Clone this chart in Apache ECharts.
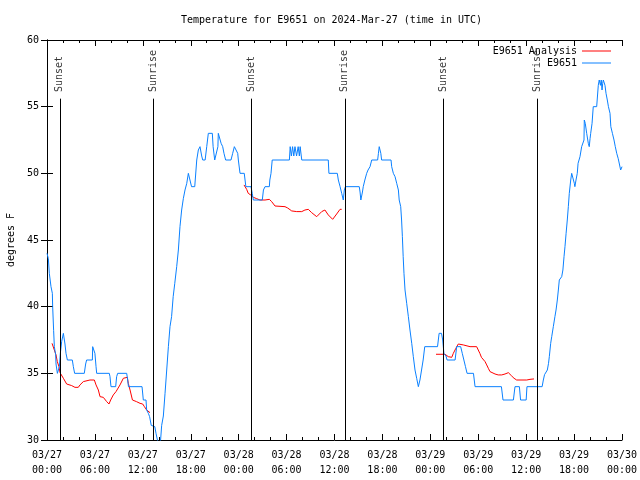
<!DOCTYPE html>
<html><head><meta charset="utf-8">
<script src="https://cdn.jsdelivr.net/npm/echarts@6/dist/echarts.min.js"></script>
<style>html,body{margin:0;padding:0;background:#fff}#c{width:640px;height:480px}</style>
</head><body><div id="c"></div>
<script>
// hours since 2024-03-27 00:00 UTC
const obsHours = [0,0.17,0.29,0.5,0.67,0.71,0.83,0.92,1.08,1.13,1.3,1.5,1.55,1.67,1.84,2.05,2.25,2.38,2.55,3.17,3.3,3.46,4.67,4.84,4.96,5.68,5.72,5.93,6.0,6.14,6.22,7.8,7.89,8.01,8.6,8.72,8.85,9.98,10.1,10.2,11.9,12.06,12.4,12.48,12.69,12.85,13.05,13.15,13.5,13.65,13.9,14.2,14.36,14.57,14.78,14.99,15.2,15.4,15.6,15.8,16.0,16.24,16.45,16.65,16.86,17.07,17.28,17.5,17.7,17.9,18.1,18.5,18.75,18.95,19.16,19.37,19.5,19.8,20.0,20.2,20.7,20.8,21.0,21.25,21.4,21.45,21.66,21.8,22.0,22.16,22.37,23.04,23.25,23.46,23.67,23.88,23.96,24.17,24.7,24.9,25.55,25.7,25.84,26.96,27.1,27.3,27.84,27.9,28.05,28.2,30.35,30.45,30.6,30.75,30.9,31.05,31.25,31.45,31.6,31.7,31.9,35.22,35.3,36.35,36.48,36.7,36.9,37.1,37.23,37.36,39.1,39.2,39.3,39.5,39.6,39.8,40.03,40.2,40.45,40.66,41.4,41.5,41.6,41.8,41.9,43.08,43.16,43.37,43.58,43.79,44.0,44.1,44.29,44.4,44.5,44.6,44.7,44.83,45.04,45.25,45.45,45.67,45.87,46.08,46.3,46.5,46.6,46.7,46.9,47.1,47.3,48.9,49.0,49.1,49.4,49.55,49.7,49.96,50.1,51.1,51.3,51.8,52.0,52.2,52.4,52.6,53.4,53.6,56.9,57.1,58.4,58.6,59.15,59.3,60.0,60.1,62.0,62.15,62.3,62.5,62.65,62.8,62.9,63.07,63.2,63.4,63.6,63.74,63.9,64.03,64.15,64.45,64.6,64.74,64.86,65.0,65.15,65.28,65.4,65.58,65.7,65.9,66.03,66.1,66.24,66.4,66.5,66.74,66.95,67.08,67.24,67.28,67.4,67.58,67.78,67.9,68.0,68.08,68.25,68.4,68.83,69.03,69.15,69.3,69.4,69.5,69.58,69.66,69.87,70.0,70.16,70.3,70.5,70.6,70.8,71.0,71.16,71.34,71.53,71.75,71.83,72.0];
const obsTemps = [44,43.6,42.5,41.5,41,40,38.2,37,36.4,35.7,35,35,35.5,36.5,37.4,38,37.2,36.5,36,36,35.5,35,35,35.7,36,36,37,37,36.5,35.5,35,35,34.75,34,34,34.75,35,35,34.5,34,34,33,33,32.25,32,31.75,31.1,31,31,30.5,29.8,29.8,31.1,31.8,33.5,35.25,37,38.5,39.25,40.75,41.75,43,44.25,46,47.25,48.1,48.75,49.25,50,50,49,49,51,51.75,52,51.3,51,51,52,53,53,52,51,51,52,53,53,52.25,52,51.5,51,51,51.5,52,52,51.5,51,50,50,49,49,48.5,48,48,48.75,49,49,49.5,50,51,51,52,51.3,52,51.3,52,51.3,52,51.3,52,51,51,50,50,49.5,49,48.5,48,48.75,49,49,48.6,48,48.6,49,49.5,50,50.25,50.5,51,51,51.5,52,51.5,51,51,50.5,50,49.75,49.25,48.75,48,47.5,46.5,45.25,43.75,42.5,41.25,40.25,39.25,38.25,37.25,36.25,35.25,34.6,34,34,34.5,35.25,36,37,37,37.5,38,38,37.5,36.5,36.3,36,36,37,37,36.5,36,35.5,35,35,34,34,33,33,34,34,33,33,34,34,34.5,34.9,35,35.25,35.75,36.25,37.25,37.75,38.5,39.25,39.75,40.5,41.25,42,42.25,42.75,43.75,44.5,45.5,46.5,47.5,48.5,49.5,50,50,49.25,49,49.5,50,50.75,51.25,52,52.1,52.5,54,53.75,53,52.25,52,52.6,53,53.75,55,55,56.6,57,56.6,57,56.25,56.75,57,56.6,56,55.5,55,54.5,53.5,53,52.5,52,51.5,51.1,51.1,50.25,50.5];
// analysis: null marks a gap between runs
const anaHours = [0.63,0.79,1.13,1.29,1.5,1.63,1.75,2.05,2.46,3.09,3.5,3.92,4.13,4.55,4.76,5.38,5.93,6.14,6.43,6.64,7.05,7.26,7.47,7.76,7.97,8.3,8.64,8.85,9.14,9.56,9.77,10.06,10.18,10.4,10.7,11.2,11.65,11.98,12.2,12.48,12.69,12.9,
  18.8,
  24.67,25.0,25.2,25.5,25.84,26.26,26.67,27.3,27.84,28.13,28.55,29.8,30.14,30.64,31.27,31.9,32.3,32.72,33.14,33.77,34.4,34.8,35.22,35.77,36.27,36.69,36.9,
  42.8,
  48.71,49.84,50.05,50.25,50.68,50.88,51.2,51.5,51.7,52.13,52.34,52.97,53.8,54.0,54.2,54.4,54.6,54.85,55.06,55.26,55.47,55.68,56.1,56.5,56.94,57.35,57.77,57.98,58.19,58.48,58.81,60.07,60.48,60.98];
const anaTemps = [37.25,37.25,36.38,35.88,35.5,35.05,35.0,34.63,34.2,34.08,33.95,33.95,34.13,34.38,34.43,34.5,34.5,34.13,33.75,33.25,33.2,33.05,32.88,32.7,33.0,33.38,33.63,33.75,34.13,34.63,34.75,34.7,34.25,33.75,33.0,32.88,32.75,32.7,32.5,32.25,32.13,32.05,
  null,
  49.13,48.8,48.5,48.38,48.2,48.1,48.0,48.0,48.05,47.88,47.55,47.5,47.4,47.18,47.13,47.13,47.25,47.3,47.05,46.75,47.13,47.25,46.88,46.55,46.95,47.3,47.3,
  null,
  36.43,36.43,36.3,36.25,36.2,36.5,36.88,37.2,37.25,37.13,37.05,37.0,37.0,36.75,36.5,36.2,36.05,35.88,35.63,35.38,35.13,35.0,34.95,34.88,34.88,34.95,35.05,35.0,34.8,34.63,34.5,34.5,34.55,34.58];
const sunHours = [1.6, 13.3, 25.55, 37.3, 49.6, 61.35];
const sunNames = ['Sunset','Sunrise','Sunset','Sunrise','Sunset','Sunrise'];
const xTickLabels = ['03/27\n00:00','03/27\n06:00','03/27\n12:00','03/27\n18:00','03/28\n00:00','03/28\n06:00','03/28\n12:00','03/28\n18:00','03/29\n00:00','03/29\n06:00','03/29\n12:00','03/29\n18:00','03/30\n00:00'];

const FONT = 'DejaVu Sans Mono';
const txt = {fontFamily: FONT, fontSize: 10, color: '#000'};
const obsData = obsHours.map((h, i) => [h, obsTemps[i]]);
const anaData = anaHours.map((h, i) => [h, anaTemps[i] === null ? '-' : anaTemps[i]]);
const sunLabelData = sunHours.map((h, i) => [h, 56.1, sunNames[i]]);

const axisLine = {show: true, lineStyle: {color: '#000', width: 1}};
function xAx(pos, showLabel) {
  return {type: 'value', position: pos, min: 0, max: 72, interval: 6,
    axisLine, splitLine: {show: false},
    axisTick: {show: true, inside: true, length: 6, lineStyle: {color: '#000'}},
    minorTick: {show: true, splitNumber: 3, length: 3, lineStyle: {color: '#000'}},
    minorSplitLine: {show: false},
    axisLabel: {show: showLabel, ...txt, lineHeight: 15, margin: 8,
      formatter: v => xTickLabels[Math.round(v / 6)]}};
}
function yAx(pos, showLabel) {
  return {type: 'value', position: pos, min: 30, max: 60, interval: 5,
    axisLine, splitLine: {show: false},
    axisTick: {show: true, inside: true, length: 6, lineStyle: {color: '#000'}},
    axisLabel: {show: showLabel, ...txt, margin: 8},
    name: showLabel ? 'degrees F' : '', nameLocation: 'middle', nameGap: 31,
    nameTextStyle: txt};
}
const legendBase = {orient: 'vertical', right: 29, align: 'right', icon: 'rect',
  itemWidth: 29, itemHeight: 1, padding: 0, textStyle: {...txt, lineHeight: 12}};

const chart = echarts.init(document.getElementById('c'), null, {renderer: 'canvas'});
chart.setOption({
  animation: false,
  backgroundColor: '#fff',
  title: {text: 'Temperature for E9651 on 2024-Mar-27 (time in UTC)', left: 181, top: 14, padding: 0,
    textStyle: {...txt, fontWeight: 'normal', lineHeight: 12}},
  legend: [
    {...legendBase, top: 45, data: ['E9651 Analysis']},
    {...legendBase, top: 57, data: ['E9651']}
  ],
  grid: {left: 47, right: 18, top: 40, bottom: 40, containLabel: false, outerBoundsMode: 'none'},
  xAxis: [xAx('bottom', true), xAx('top', false)],
  yAxis: [yAx('left', true), yAx('right', false)],
  series: [
    {name: 'E9651 Analysis', type: 'line', data: anaData, symbol: 'none', connectNulls: false,
      lineStyle: {color: '#ff0000', width: 1}, itemStyle: {color: '#ff0000'}, clip: true},
    {name: 'E9651', type: 'line', data: obsData, symbol: 'none',
      lineStyle: {color: '#0a80ff', width: 1}, itemStyle: {color: '#0a80ff'}, clip: true},
    {name: 'sun', type: 'line', data: [], symbol: 'none', silent: true,
      markLine: {silent: true, symbol: ['none', 'none'], animation: false,
        lineStyle: {color: '#000', width: 1, type: 'solid'}, label: {show: false},
        emphasis: {disabled: true},
        data: sunHours.map(h => [{coord: [h, 30]}, {coord: [h, 55.6]}])}},
    {name: 'sunLabels', type: 'scatter', data: sunLabelData, symbolSize: 0, silent: true,
      label: {show: true, formatter: p => p.data[2], position: [0, 0], align: 'left',
        verticalAlign: 'middle', rotate: 90, ...txt}}
  ]
});
</script></body></html>
